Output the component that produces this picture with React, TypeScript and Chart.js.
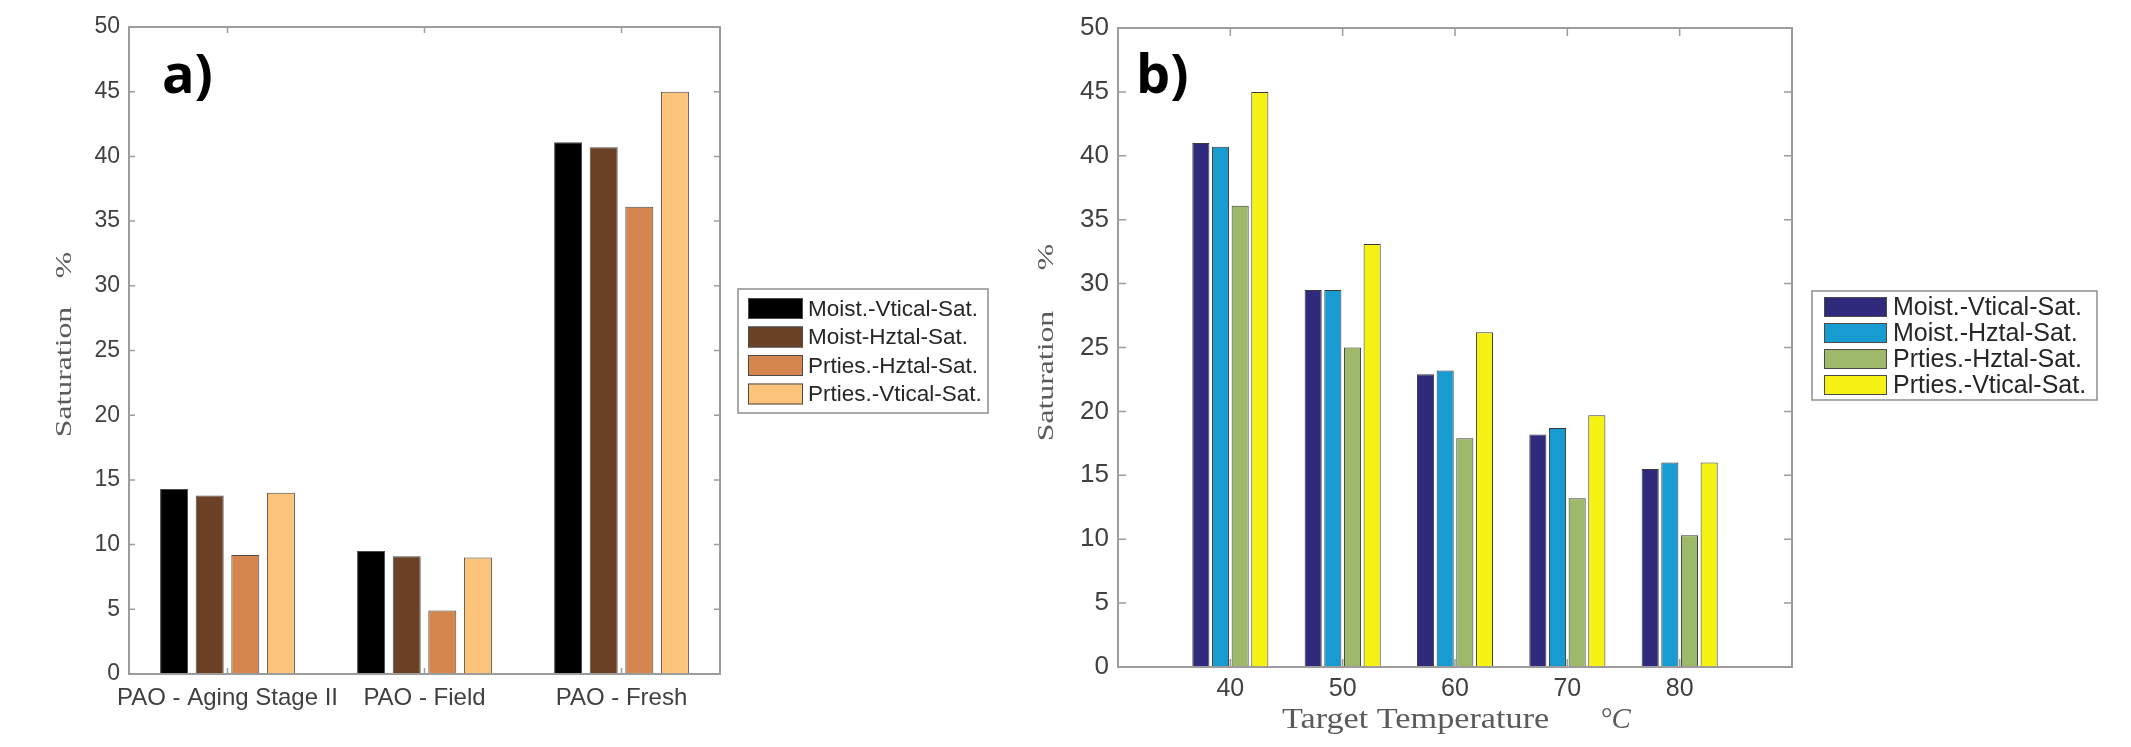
import React, { useEffect, useRef } from 'react';
import { Chart, registerables } from 'chart.js';

Chart.register(...registerables);

// ---------- data: panel a) ----------
const leftCategories = ['PAO - Aging Stage II', 'PAO - Field', 'PAO - Fresh'];
const leftSeriesNames = ['Moist.-Vtical-Sat.', 'Moist-Hztal-Sat.', 'Prties.-Hztal-Sat.', 'Prties.-Vtical-Sat.'];
const leftMoistVertical = [14.3, 9.5, 41.1];
const leftMoistHorizontal = [13.8, 9.1, 40.7];
const leftPrtiesHorizontal = [9.2, 4.9, 36.1];
const leftPrtiesVertical = [14.0, 9.0, 45.0];
const leftColors = ['#000000', '#6b4024', '#d5864f', '#fcc47b'];

// ---------- data: panel b) ----------
const rightTemperatures = [40, 50, 60, 70, 80];
const rightSeriesNames = ['Moist.-Vtical-Sat.', 'Moist.-Hztal-Sat.', 'Prties.-Hztal-Sat.', 'Prties.-Vtical-Sat.'];
const rightMoistVertical = [41.0, 29.5, 22.9, 18.2, 15.5];
const rightMoistHorizontal = [40.7, 29.5, 23.2, 18.7, 16.0];
const rightPrtiesHorizontal = [36.1, 25.0, 17.9, 13.2, 10.3];
const rightPrtiesVertical = [45.0, 33.1, 26.2, 19.7, 16.0];
const rightColors = ['#2f2a7b', '#179bd1', '#9fb96a', '#f6f314'];
const rightXMin = 30;
const rightXMax = 90;

const yMin = 0;
const yMax = 50;
const yStep = 5;

const SANS = '"Liberation Sans", Arial, sans-serif';
const SERIF = '"Liberation Serif", "Times New Roman", serif';

type DecorCfg = {
  tickLen: number;
  skipEndX: boolean;
  yTitle: { x: number; ySat: number; yPct: number; size: number; stretch: number };
  xTitle?: { x1: number; x2: number; y: number; size: number; stretch: number };
  panel: { text: string; x: number; y: number };
  legend: {
    x: number; y: number; w: number; h: number;
    swX: number; swW: number; swH: number; rowTop: number; pitch: number;
    textX: number; size: number;
  };
};

function decorPlugin(cfg: DecorCfg) {
  return {
    id: 'decor',
    beforeDatasetsDraw(chart: any) {
      const { ctx, chartArea: a } = chart;
      const xs = chart.scales.x;
      const ys = chart.scales.y;
      ctx.save();
      ctx.strokeStyle = '#9c9c9c';
      ctx.lineWidth = 1.5;
      ctx.beginPath();
      ys.ticks.forEach((t: any) => {
        const py = ys.getPixelForValue(t.value);
        ctx.moveTo(a.left, py);
        ctx.lineTo(a.left + cfg.tickLen, py);
        ctx.moveTo(a.right, py);
        ctx.lineTo(a.right - cfg.tickLen, py);
      });
      xs.ticks.forEach((t: any, i: number) => {
        if (cfg.skipEndX && (i === 0 || i === xs.ticks.length - 1)) return;
        const px = xs.getPixelForTick(i);
        ctx.moveTo(px, a.top);
        ctx.lineTo(px, a.top + cfg.tickLen);
        ctx.moveTo(px, a.bottom);
        ctx.lineTo(px, a.bottom - cfg.tickLen);
      });
      ctx.stroke();
      ctx.restore();
    },
    afterDatasetsDraw(chart: any) {
      const { ctx, chartArea: a } = chart;
      ctx.save();
      ctx.strokeStyle = '#9c9c9c';
      ctx.lineWidth = 2;
      ctx.strokeRect(a.left, a.top, a.right - a.left, a.bottom - a.top);
      ctx.restore();
    },
    afterDraw(chart: any) {
      const { ctx } = chart;
      ctx.save();
      // y title (stretched along reading direction like the original)
      const yt = cfg.yTitle;
      ctx.fillStyle = '#5a5a5a';
      ctx.font = `${yt.size}px ${SERIF}`;
      ctx.textAlign = 'center';
      ctx.textBaseline = 'middle';
      ctx.save();
      ctx.translate(yt.x, yt.ySat);
      ctx.rotate(-Math.PI / 2);
      ctx.scale(yt.stretch, 1);
      ctx.fillText('Saturation', 0, 0);
      ctx.restore();
      ctx.save();
      ctx.translate(yt.x, yt.yPct);
      ctx.rotate(-Math.PI / 2);
      ctx.scale(yt.stretch, 1);
      ctx.fillText('%', 0, 0);
      ctx.restore();
      // x title
      if (cfg.xTitle) {
        const xt = cfg.xTitle;
        ctx.font = `${xt.size}px ${SERIF}`;
        ctx.textAlign = 'left';
        ctx.save();
        ctx.translate(xt.x1, xt.y);
        ctx.scale(xt.stretch, 1);
        ctx.fillText('Target Temperature', 0, 0);
        ctx.restore();
        ctx.font = `italic ${xt.size}px ${SERIF}`;
        ctx.fillText('°C', xt.x2, xt.y);
      }
      // panel label
      ctx.fillStyle = '#000';
      ctx.font = `bold 54px "Open Sans", sans-serif`;
      ctx.textAlign = 'left';
      ctx.textBaseline = 'alphabetic';
      ctx.fillText(cfg.panel.text, cfg.panel.x, cfg.panel.y);
      // legend
      const lg = cfg.legend;
      ctx.fillStyle = '#ffffff';
      ctx.fillRect(lg.x, lg.y, lg.w, lg.h);
      ctx.strokeStyle = '#8e8e8e';
      ctx.lineWidth = 1.5;
      ctx.strokeRect(lg.x, lg.y, lg.w, lg.h);
      ctx.font = `${lg.size}px ${SANS}`;
      ctx.textBaseline = 'middle';
      chart.data.datasets.forEach((ds: any, i: number) => {
        const top = lg.rowTop + i * lg.pitch;
        ctx.fillStyle = ds.backgroundColor;
        ctx.fillRect(lg.swX, top, lg.swW, lg.swH);
        ctx.strokeStyle = '#4a4a4a';
        ctx.lineWidth = 1;
        ctx.strokeRect(lg.swX + 0.5, top + 0.5, lg.swW - 1, lg.swH - 1);
        ctx.fillStyle = '#262626';
        ctx.fillText(ds.label, lg.textX, top + lg.swH / 2 + 1);
      });
      ctx.restore();
    },
  };
}

function LeftChart() {
  const ref = useRef<HTMLCanvasElement>(null);
  useEffect(() => {
    const series = [leftMoistVertical, leftMoistHorizontal, leftPrtiesHorizontal, leftPrtiesVertical];
    const chart = new Chart(ref.current!, {
      type: 'bar',
      data: {
        labels: leftCategories,
        datasets: series.map((vals, i) => ({
          label: leftSeriesNames[i],
          data: vals,
          backgroundColor: leftColors[i],
          borderColor: '#4a4a4a',
          borderWidth: 1,
          categoryPercentage: 0.723,
          barPercentage: 0.786,
        })),
      },
      options: {
        animation: false,
        responsive: false,
        maintainAspectRatio: false,
        devicePixelRatio: 1,
        layout: { padding: { left: 0, right: 280, top: 27, bottom: 0 } },
        plugins: { legend: { display: false }, tooltip: { enabled: false } },
        scales: {
          x: {
            grid: { display: false, drawTicks: false },
            border: { display: false },
            ticks: {
              autoSkip: false, maxRotation: 0, minRotation: 0, padding: 10,
              color: '#404040', font: { family: SANS, size: 24 },
            },
            afterFit: (s: any) => { s.height = 73; },
          },
          y: {
            min: yMin, max: yMax,
            grid: { display: false, drawTicks: false },
            border: { display: false },
            ticks: { stepSize: yStep, padding: 9, color: '#404040', font: { family: SANS, size: 23 } },
            afterFit: (s: any) => { s.width = 129; },
          },
        },
      },
      plugins: [decorPlugin({
        tickLen: 6,
        skipEndX: false,
        yTitle: { x: 65, ySat: 372, yPct: 265, size: 23, stretch: 1.38 },
        panel: { text: 'a)', x: 162, y: 93 },
        legend: { x: 738, y: 289, w: 250, h: 124, swX: 748, swW: 55, swH: 21, rowTop: 298, pitch: 28.5, textX: 808, size: 22.5 },
      })],
    } as any);
    return () => chart.destroy();
  }, []);
  return <canvas ref={ref} width={1000} height={747} style={{ position: 'absolute', left: 0, top: 0, width: 1000, height: 747 }} />;
}

function RightChart() {
  const ref = useRef<HTMLCanvasElement>(null);
  useEffect(() => {
    const series = [rightMoistVertical, rightMoistHorizontal, rightPrtiesHorizontal, rightPrtiesVertical];
    const chart = new Chart(ref.current!, {
      type: 'bar',
      data: {
        datasets: series.map((vals, i) => ({
          label: rightSeriesNames[i],
          data: rightTemperatures.map((t, j) => ({ x: t, y: vals[j] })),
          backgroundColor: rightColors[i],
          borderColor: '#3a3a3a',
          borderWidth: 1,
          categoryPercentage: 0.70,
          barPercentage: 0.87,
        })),
      },
      options: {
        animation: false,
        responsive: false,
        maintainAspectRatio: false,
        devicePixelRatio: 1,
        layout: { padding: { left: 0, right: 339, top: 28, bottom: 0 } },
        plugins: { legend: { display: false }, tooltip: { enabled: false } },
        scales: {
          x: {
            type: 'linear',
            min: rightXMin, max: rightXMax,
            offset: false,
            grid: { display: false, drawTicks: false, offset: false },
            border: { display: false },
            ticks: {
              stepSize: 10, autoSkip: false, maxRotation: 0, minRotation: 0, padding: 7,
              color: '#404040', font: { family: SANS, size: 25 },
              callback: (v: any) => (v === rightXMin || v === rightXMax ? '' : String(v)),
            },
            afterFit: (s: any) => { s.height = 80; },
          },
          y: {
            min: yMin, max: yMax,
            grid: { display: false, drawTicks: false },
            border: { display: false },
            ticks: { stepSize: yStep, padding: 9, color: '#404040', font: { family: SANS, size: 26 } },
            afterFit: (s: any) => { s.width = 118; },
          },
        },
      },
      plugins: [decorPlugin({
        tickLen: 8,
        skipEndX: true,
        yTitle: { x: 47, ySat: 376, yPct: 257, size: 23, stretch: 1.38 },
        xTitle: { x1: 282, x2: 600, y: 720, size: 29, stretch: 1.18 },
        panel: { text: 'b)', x: 136, y: 93 },
        legend: { x: 812, y: 291, w: 285, h: 109, swX: 824, swW: 63, swH: 20, rowTop: 297, pitch: 26, textX: 893, size: 25 },
      })],
    } as any);
    return () => chart.destroy();
  }, []);
  return <canvas ref={ref} width={1131} height={747} style={{ position: 'absolute', left: 1000, top: 0, width: 1131, height: 747 }} />;
}

export default function App() {
  return (
    <div style={{ position: 'absolute', left: 0, top: 0, width: 2131, height: 747, background: '#ffffff', overflow: 'hidden' }}>
      <LeftChart />
      <RightChart />
    </div>
  );
}
